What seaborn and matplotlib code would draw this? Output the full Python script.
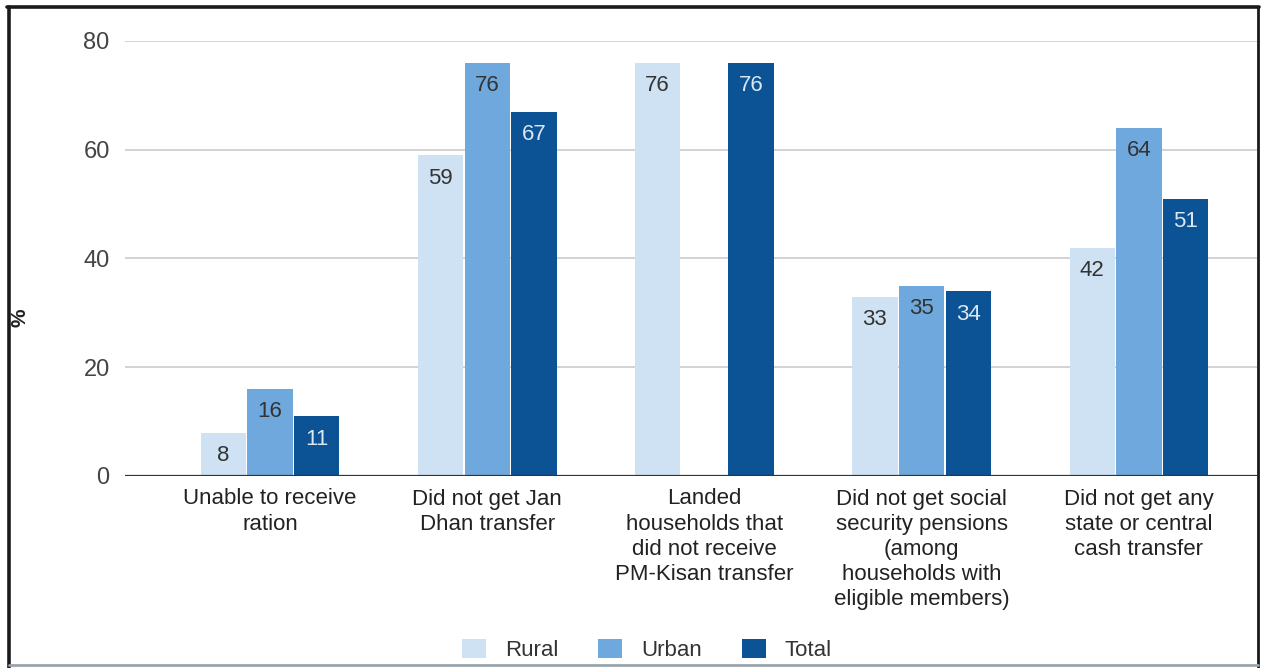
import numpy as np
import pandas as pd
import matplotlib
matplotlib.use("Agg")
import matplotlib.pyplot as plt
from matplotlib.lines import Line2D
import seaborn as sns

categories = [
    "Unable to receive\nration",
    "Did not get Jan\nDhan transfer",
    "Landed\nhouseholds that\ndid not receive\nPM-Kisan transfer",
    "Did not get social\nsecurity pensions\n(among\nhouseholds with\neligible members)",
    "Did not get any\nstate or central\ncash transfer",
]
series = ["Rural", "Urban", "Total"]
rural = [8, 59, 76, 33, 42]
urban = [16, 76, np.nan, 35, 64]
total = [11, 67, 76, 34, 51]
y_ticks = [0, 20, 40, 60, 80]

colors = ["#cfe2f3", "#6fa8dc", "#0b5394"]
label_colors = ["#333333", "#333333", "#dbe7f3"]

df = pd.DataFrame({
    "category": categories * 3,
    "series": sum([[s] * len(categories) for s in series], []),
    "value": rural + urban + total,
})

sns.set_theme(style="white")
plt.rcParams["font.family"] = ["Liberation Sans", "DejaVu Sans"]

W, H = 1261, 668
fig = plt.figure(figsize=(W / 100, H / 100), dpi=100)
ax = fig.add_axes([125 / W, 1 - 476 / H, (1257 - 125) / W, (476 - 41) / H])

sns.barplot(data=df, x="category", y="value", hue="series", order=categories,
            hue_order=series, palette=colors, width=0.645, gap=0.03,
            saturation=1, legend=True, ax=ax, edgecolor="none")

ax.set_ylim(0, 80)
ax.set_xlim(-0.667, -0.667 + (1257 - 125) / 217.25)
ax.set_yticks(y_ticks)
ax.set_yticklabels([str(t) for t in y_ticks])
ax.set_axisbelow(True)
ax.yaxis.grid(True, color="#cccccc", linewidth=1.2)
ax.xaxis.grid(False)
for s in ax.spines.values():
    s.set_visible(False)
ax.axhline(0, color="#333333", linewidth=1.6, zorder=3)

ax.tick_params(axis="y", length=0, pad=11, labelsize=17, labelcolor="#444444")
ax.tick_params(axis="x", length=0, pad=9, labelsize=16, labelcolor="#222222")
for lbl in ax.get_xticklabels():
    lbl.set_linespacing(1.26)
    lbl.set_ha("center")

ax.set_xlabel("")
ax.set_ylabel("%", fontsize=15, fontweight="bold", color="#222222", labelpad=0)
ax.yaxis.set_label_coords(-96 / (1257 - 125), (476 - 318) / (476 - 41))

# value labels inside the top of each bar
for container, lc in zip(ax.containers, label_colors):
    vals = container.datavalues
    for rect, v in zip(container.patches, vals):
        if np.isnan(v):
            continue
        ax.annotate(f"{v:.0f}", (rect.get_x() + rect.get_width() / 2, v),
                    xytext=(0, -23), textcoords="offset pixels",
                    ha="center", va="center", fontsize=16, color=lc, zorder=4)

handles, labels = ax.get_legend_handles_labels()
ax.get_legend().remove()
fig.legend(handles, labels, loc="center", bbox_to_anchor=(647 / W, 1 - 650 / H),
           ncol=3, frameon=False, fontsize=16, handlelength=1.08, handleheight=0.9,
           handletextpad=0.85, columnspacing=1.8, labelcolor="#333333")

# outer frame
fig.add_artist(Line2D([8.5 / W, 8.5 / W], [0, 1 - 7 / H], color="#1a1a1a", linewidth=2.6,
                      transform=fig.transFigure))
fig.add_artist(Line2D([7 / W, 1258.5 / W], [1 - 7 / H, 1 - 7 / H], color="#1a1a1a",
                      linewidth=2.6, transform=fig.transFigure))
fig.add_artist(Line2D([1257.5 / W, 1257.5 / W], [0, 1 - 7 / H], color="#1a1a1a",
                      linewidth=2.0, transform=fig.transFigure))
fig.add_artist(Line2D([8.5 / W, 1257.5 / W], [1 - 665 / H, 1 - 665 / H], color="#9aa3ad",
                      linewidth=2.0, transform=fig.transFigure))

fig.savefig("out.png", dpi=100)
